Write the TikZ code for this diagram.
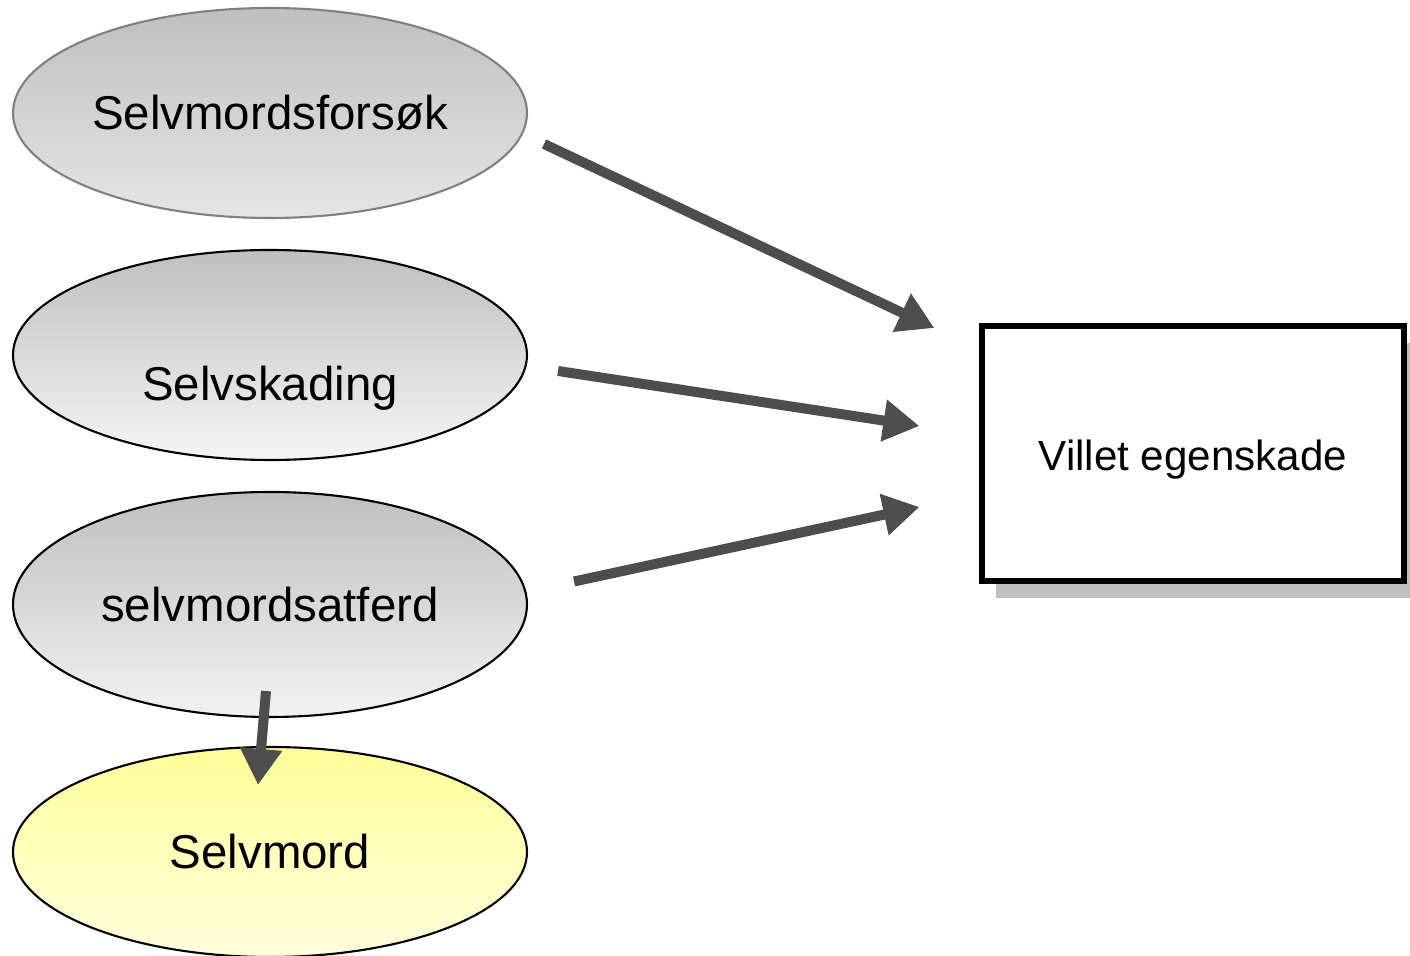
\documentclass[tikz,border=0pt]{standalone}
\usepackage{fontspec}
\setmainfont{Liberation Sans}
\usetikzlibrary{shapes.geometric,arrows.meta,shadows}
\definecolor{pilgra}{HTML}{4D4D4D}
\definecolor{gultopp}{HTML}{FFFF99}
\definecolor{gulbunn}{HTML}{FFFFDD}

\begin{document}
\begin{tikzpicture}[
	form/.style={ellipse, draw, line width=0.6pt, minimum width=5.14cm, minimum height=2.1cm, inner sep=0pt, font=\fontsize{13.5}{16}\selectfont},
	pil/.style={-{Triangle[length=0.36cm,width=0.4cm]}, line width=0.1cm, draw=pilgra, fill=pilgra},
	boks/.style={rectangle, draw, line width=1.5pt, fill=white, minimum width=4.22cm, minimum height=2.55cm, text height=9.7pt, text depth=0pt, font=\fontsize{12}{14}\selectfont,
		drop shadow={shadow xshift=0.14cm, shadow yshift=-0.17cm, fill=gray!50, opacity=1}}
]
	\useasboundingbox (0,0) rectangle (14.1,-9.56);
	\node[form, draw=gray, top color=gray!50, bottom color=gray!20] (fors) at (2.70,-1.13) {Selvmordsforsøk};
	\node[form, top color=gray!50, bottom color=gray!8] (skad) at (2.70,-3.55) {};
	\node[font=\fontsize{13.5}{16}\selectfont] (skadtxt) at ([yshift=-0.33cm]skad.center) {Selvskading};
	\node[form, minimum height=2.25cm, top color=gray!50, bottom color=gray!10] (atf) at (2.70,-6.045) {selvmordsatferd};
	\node[form, top color=gultopp, bottom color=gulbunn] (mord) at (2.70,-8.52) {Selvmord};
	\node[boks] (villet) at (11.93,-4.535) {Villet egenskade};
	\draw[pil] ([shift={(0.16,-0.31)}]fors.east) -- ([shift={(-0.45,1.255)}]villet.west);
	\draw[pil] ([shift={(0.30,-0.16)}]skad.east) -- ([shift={(-0.60,0.275)}]villet.west);
	\draw[pil] ([shift={(0.46,0.23)}]atf.east) -- ([shift={(-0.60,-0.535)}]villet.west);
	\draw[pil] ([shift={(-0.04,0.27)}]atf.south) -- ([shift={(-0.12,-0.39)}]mord.north);
\end{tikzpicture}
\end{document}
